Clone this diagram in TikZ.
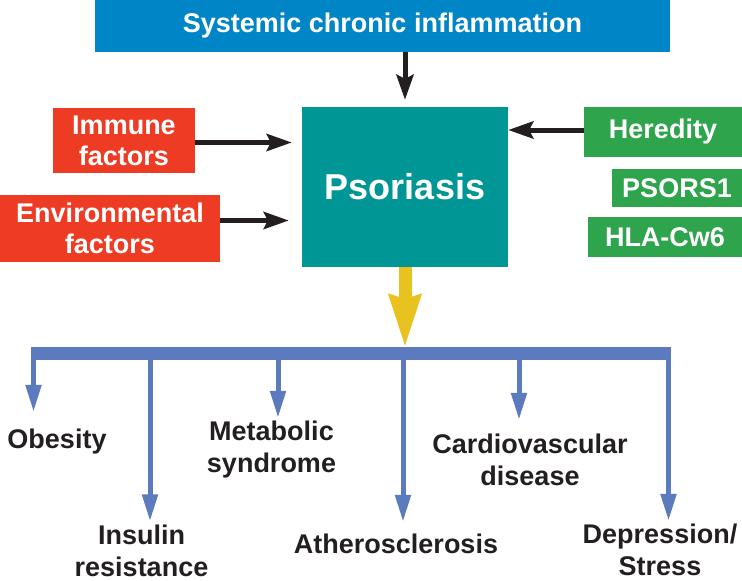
\documentclass[tikz,border=0pt]{standalone}
\usepackage{fontspec}
\setmainfont{Liberation Sans}
\usetikzlibrary{positioning,arrows.meta}
\definecolor{sysblue}{RGB}{0,133,199}
\definecolor{psoteal}{RGB}{0,150,150}
\definecolor{factred}{RGB}{238,59,36}
\definecolor{heregreen}{RGB}{46,164,76}
\definecolor{linkblue}{RGB}{91,123,190}
\definecolor{flowyellow}{RGB}{232,194,30}
\definecolor{inkblack}{RGB}{35,31,32}

\begin{document}
\begin{tikzpicture}[x=1pt, y=-1pt,
  box/.style={rectangle, inner sep=0pt, text=white, align=center,
    font=\bfseries\fontsize{27}{31}\selectfont},
  outcome/.style={inner sep=0pt, text=inkblack, align=center,
    font=\bfseries\fontsize{27}{32}\selectfont},
  blackarrow/.style={draw=inkblack, line width=5pt, -{Stealth[length=25pt,width=17pt,inset=4pt]}},
  droparrow/.style={draw=linkblue, line width=5pt, -{Triangle[length=27pt,width=15pt]}}]
  \useasboundingbox (0,0) rectangle (742,581);

  \node[box, fill=sysblue, minimum width=575pt, minimum height=52pt] (SCI) at (382.5,26) {Systemic chronic inflammation};
  \node[box, fill=psoteal, minimum width=206pt, minimum height=160pt, font=\bfseries\fontsize{36}{40}\selectfont] (PSO) at (405,187) {Psoriasis};
  \node[box, fill=factred, minimum width=142pt, minimum height=65pt] (IMM) at (124,140.5) {Immune\\factors};
  \node[box, fill=factred, minimum width=220pt, minimum height=67pt] (ENV) at (110,228.5) {Environmental\\factors};
  \node[box, fill=heregreen, minimum width=158pt, minimum height=50pt] (HER) at (663,132) {Heredity};
  \node[box, fill=heregreen, minimum width=130pt, minimum height=38pt, below left=12pt and 0pt of HER.south east] (PS1) {PSORS1};
  \node[box, fill=heregreen, minimum width=154pt, minimum height=40pt, below left=9pt and 0pt of PS1.south east] (HLA) {HLA-Cw6};

  \draw[blackarrow, shorten >=7pt] (SCI.south -| PSO) -- (PSO.north);
  \draw[blackarrow, shorten >=10pt] ([yshift=-2pt]IMM.east) -- ([yshift=-2pt]IMM.east -| PSO.west);
  \draw[blackarrow, shorten >=13pt] ([yshift=8pt]ENV.east) -- ([yshift=8pt]ENV.east -| PSO.west);
  \draw[blackarrow] ([yshift=2pt]HER.west) -- ([yshift=2pt]HER.west -| PSO.east);

  % outcomes
  \node[outcome] (OBE) at (57,441.7) {Obesity};
  \node[outcome] (INS) at (141.5,550.5) {Insulin\\resistance};
  \node[outcome] (MET) at (271.5,449.7) {Metabolic\\syndrome};
  \node[outcome] (ATH) at (396,544) {Atherosclerosis};
  \node[outcome] (CVD) at (530,460) {Cardiovascular\\disease};
  \node[outcome] (DEP) at (660,550) {Depression/\\Stress};

  \coordinate (barL) at (31,353.5);
  \coordinate (barR) at (671,353.5);
  \coordinate (ytip) at (405,348);
  \draw[draw=flowyellow, line width=13pt, -{Stealth[length=52pt,width=30pt,inset=3pt]}] (PSO.south) -- (ytip);
  \draw[draw=linkblue, line width=13pt] (barL) -- (barR);

  \foreach \x/\lab/\gap in {33.5/OBE/17, 150/INS/3, 278/MET/3, 403/ATH/12, 519/CVD/14, 668.5/DEP/3}{
    \coordinate (top-\lab) at (\x,353.5);
    \draw[droparrow, shorten >=\gap pt] (top-\lab) -- (top-\lab |- \lab.north);
  }
\end{tikzpicture}
\end{document}
